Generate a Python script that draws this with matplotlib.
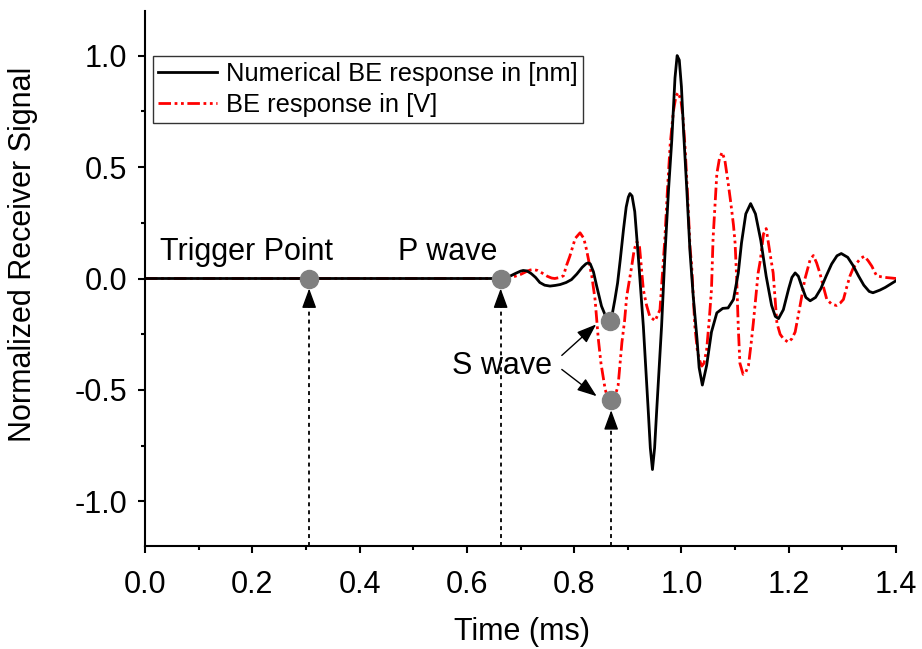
import numpy as np
import matplotlib
matplotlib.use("Agg")
import matplotlib.pyplot as plt
from matplotlib.ticker import MultipleLocator, FormatStrFormatter

plt.rcParams["font.family"] = ["Liberation Sans", "DejaVu Sans"]

# ── Data ────────────────────────────────────────────
# numerical BE response in [nm] (black)
t_nm = [0.000, 0.660, 0.670, 0.680, 0.690, 0.700, 0.705, 0.712, 0.720, 0.728,
        0.736, 0.745, 0.755, 0.765, 0.774, 0.785, 0.795, 0.805, 0.815, 0.822,
        0.826, 0.830, 0.836, 0.842, 0.851, 0.858, 0.866, 0.871, 0.876, 0.881,
        0.886, 0.892, 0.897, 0.901, 0.904, 0.908, 0.913, 0.920, 0.929, 0.938,
        0.942, 0.946, 0.950, 0.954, 0.963, 0.969, 0.976, 0.982, 0.988, 0.992,
        0.996, 1.000, 1.004, 1.010, 1.016, 1.022, 1.029, 1.033, 1.039, 1.047,
        1.056, 1.066, 1.077, 1.087, 1.097, 1.106, 1.112, 1.120, 1.129, 1.138,
        1.148, 1.158, 1.168, 1.175, 1.181, 1.190, 1.200, 1.206, 1.212, 1.218,
        1.225, 1.232, 1.240, 1.250, 1.260, 1.270, 1.280, 1.290, 1.298, 1.310,
        1.320, 1.330, 1.340, 1.350, 1.357, 1.370, 1.380, 1.390, 1.400]
v_nm = [0.000, 0.000, 0.002, 0.010, 0.022, 0.033, 0.036, 0.034, 0.022, 0.005,
        -0.018, -0.030, -0.034, -0.031, -0.027, -0.018, -0.005, 0.020, 0.050, 0.066,
        0.070, 0.066, 0.030, -0.034, -0.124, -0.165, -0.190, -0.160, -0.094, -0.020,
        0.085, 0.220, 0.320, 0.365, 0.381, 0.370, 0.300, 0.085, -0.214, -0.587,
        -0.760, -0.857, -0.760, -0.587, -0.214, 0.095, 0.400, 0.620, 0.900, 1.000,
        0.980, 0.860, 0.660, 0.400, 0.120, -0.080, -0.270, -0.400, -0.478, -0.390,
        -0.240, -0.154, -0.134, -0.132, -0.094, 0.025, 0.160, 0.290, 0.336, 0.290,
        0.170, 0.010, -0.120, -0.170, -0.180, -0.140, -0.045, 0.005, 0.025, 0.010,
        -0.040, -0.085, -0.100, -0.085, -0.045, 0.012, 0.065, 0.102, 0.112, 0.095,
        0.058, 0.012, -0.030, -0.058, -0.064, -0.052, -0.040, -0.025, -0.010]

# BE response in [V] (red)
t_v = [0.000, 0.670, 0.680, 0.690, 0.700, 0.710, 0.718, 0.724, 0.732, 0.740,
       0.750, 0.758, 0.764, 0.772, 0.780, 0.786, 0.792, 0.802, 0.811, 0.818,
       0.823, 0.833, 0.839, 0.845, 0.850, 0.858, 0.864, 0.869, 0.876, 0.882,
       0.889, 0.894, 0.898, 0.907, 0.912, 0.917, 0.922, 0.929, 0.935, 0.941,
       0.951, 0.960, 0.964, 0.969, 0.974, 0.979, 0.985, 0.990, 0.994, 0.999,
       1.003, 1.007, 1.012, 1.016, 1.019, 1.025, 1.030, 1.035, 1.038, 1.042,
       1.047, 1.052, 1.056, 1.059, 1.066, 1.071, 1.076, 1.081, 1.087, 1.092,
       1.097, 1.100, 1.103, 1.106, 1.109, 1.115, 1.120, 1.125, 1.130, 1.134,
       1.140, 1.143, 1.147, 1.153, 1.158, 1.165, 1.171, 1.178, 1.184, 1.190,
       1.199, 1.206, 1.212, 1.221, 1.230, 1.240, 1.246, 1.252, 1.258, 1.265,
       1.271, 1.280, 1.289, 1.296, 1.302, 1.308, 1.314, 1.320, 1.327, 1.334,
       1.341, 1.348, 1.355, 1.360, 1.364, 1.372, 1.383, 1.392, 1.400]
v_v = [0.000, 0.000, 0.004, 0.010, 0.018, 0.030, 0.038, 0.040, 0.036, 0.025,
       0.010, 0.002, 0.000, 0.004, 0.012, 0.060, 0.100, 0.180, 0.205, 0.180,
       0.130, 0.010, -0.094, -0.270, -0.380, -0.500, -0.540, -0.546, -0.530, -0.480,
       -0.288, -0.190, -0.080, 0.050, 0.130, 0.165, 0.140, -0.050, -0.120, -0.170,
       -0.190, -0.140, 0.000, 0.175, 0.400, 0.600, 0.750, 0.820, 0.834, 0.800,
       0.720, 0.580, 0.350, 0.140, 0.060, -0.214, -0.330, -0.375, -0.393, -0.380,
       -0.320, -0.180, -0.050, 0.180, 0.470, 0.540, 0.566, 0.530, 0.430, 0.340,
       0.240, 0.160, 0.000, -0.220, -0.380, -0.430, -0.420, -0.390, -0.290, -0.200,
       -0.050, 0.025, 0.080, 0.200, 0.224, 0.115, 0.025, -0.200, -0.250, -0.270,
       -0.286, -0.270, -0.240, -0.124, -0.004, 0.085, 0.103, 0.070, 0.025, -0.040,
       -0.094, -0.115, -0.121, -0.110, -0.094, -0.040, 0.010, 0.045, 0.070, 0.090,
       0.100, 0.080, 0.055, 0.030, 0.012, 0.008, 0.004, 0.002, 0.000]

# picked points (grey dots)
pick_t = [0.306, 0.663, 0.866, 0.869]
pick_v = [0.000, 0.000, -0.190, -0.546]

x_ticks = [0.0, 0.2, 0.4, 0.6, 0.8, 1.0, 1.2, 1.4]
y_ticks = [-1.0, -0.5, 0.0, 0.5, 1.0]

FS = 22
Y_MIN, Y_MAX = -1.2, 1.2

fig = plt.figure(figsize=(9.22, 6.49), dpi=100)
ax = fig.add_axes([145 / 922, 103 / 649, 751 / 922, 535 / 649])

ax.plot(t_v, v_v, color="#FF0000", lw=2.0,
        linestyle=(0, (4.5, 1.3, 1, 1.3, 1, 1.3)), label="BE response in [V]", zorder=2)
ax.plot(t_nm, v_nm, color="black", lw=2.0,
        label="Numerical BE response in [nm]", zorder=3)

ax.plot(pick_t, pick_v, "o", color="#808080", markersize=13, zorder=5)

# dashed lines from the time axis up to the picks, with a solid head
for t, v in [(pick_t[0], pick_v[0]), (pick_t[1], pick_v[1]), (pick_t[3], pick_v[3])]:
    tip = v - 0.045
    ax.plot([t, t], [Y_MIN, tip - 0.04], color="black", lw=1.3,
            linestyle=(0, (2.2, 2.2)), zorder=4, clip_on=False)
    ax.annotate("", xy=(t, tip), xytext=(t, tip - 0.06),
                arrowprops=dict(arrowstyle="-|>,head_length=0.6,head_width=0.22",
                                lw=1.0, color="black", shrinkA=0, shrinkB=0,
                                mutation_scale=20), zorder=4)

# S wave arrows
for t, v in [(0.841, -0.206), (0.842, -0.528)]:
    ax.annotate("", xy=(t, v), xytext=(0.777, (-0.345 if v > -0.3 else -0.408)),
                arrowprops=dict(arrowstyle="-|>,head_length=0.6,head_width=0.22",
                                lw=1.0, color="black", shrinkA=0, shrinkB=0,
                                mutation_scale=20), zorder=4)

ax.text(0.189, 0.117, "Trigger Point", fontsize=FS, ha="center", va="center")
ax.text(0.564, 0.117, "P wave", fontsize=FS, ha="center", va="center")
ax.text(0.665, -0.393, "S wave", fontsize=FS, ha="center", va="center")

ax.set_xlim(0, 1.4)
ax.set_ylim(Y_MIN, Y_MAX)
ax.set_xticks(x_ticks)
ax.set_yticks(y_ticks)
ax.xaxis.set_minor_locator(MultipleLocator(0.1))
ax.yaxis.set_minor_locator(MultipleLocator(0.25))
ax.xaxis.set_major_formatter(FormatStrFormatter("%.1f"))
ax.yaxis.set_major_formatter(FormatStrFormatter("%.1f"))

for s in ["top", "right"]:
    ax.spines[s].set_visible(False)
for s in ["left", "bottom"]:
    ax.spines[s].set_linewidth(1.5)

ax.tick_params(which="major", direction="out", length=5, width=1.5,
               labelsize=FS, pad=8)
ax.tick_params(which="minor", direction="out", length=3, width=1.5)
ax.tick_params(axis="x", which="major", pad=12)

ax.set_xlabel("Time (ms)", fontsize=FS, va="center")
ax.set_ylabel("Normalized Receiver Signal", fontsize=FS, va="center")
ax.xaxis.set_label_coords(0.502, -0.161)
ax.yaxis.set_label_coords(-0.162, 0.545)

handles, labels = ax.get_legend_handles_labels()
leg = ax.legend(handles[::-1], labels[::-1], loc="upper left",
                bbox_to_anchor=(0.0103, 0.916), borderaxespad=0,
                fontsize=18.4, frameon=True, fancybox=False, edgecolor="black",
                handlelength=2.3, handletextpad=0.35, borderpad=0.22,
                labelspacing=0.3)
leg.get_frame().set_linewidth(1.0)

plt.savefig("out.png", dpi=100)
plt.close()
